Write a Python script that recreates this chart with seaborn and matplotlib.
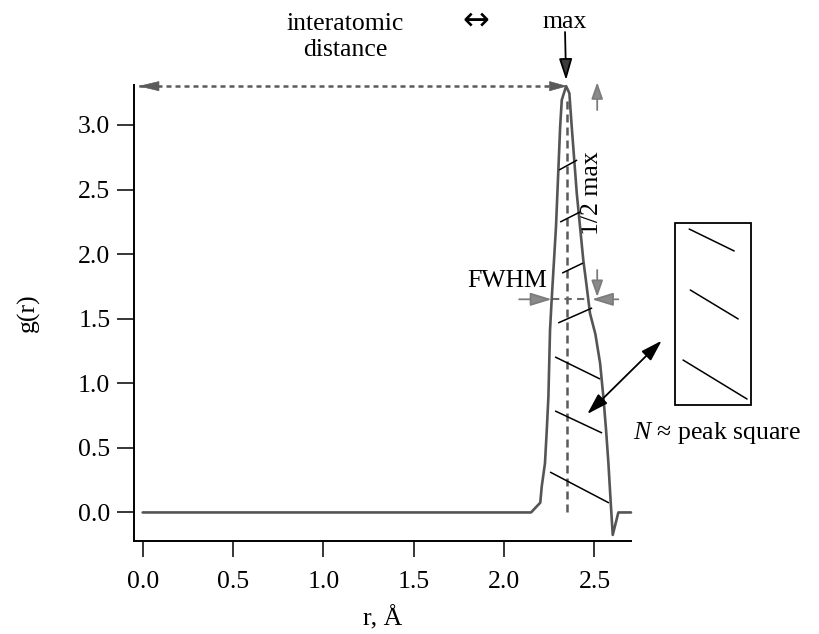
import numpy as np
import pandas as pd
import matplotlib
matplotlib.use("Agg")
import matplotlib.pyplot as plt
from matplotlib.patches import Rectangle, FancyArrowPatch, ArrowStyle
import seaborn as sns

# Radial distribution function g(r) around the first coordination shell
r_angstrom = [0.000, 2.149, 2.200, 2.208, 2.226, 2.236, 2.245, 2.254, 2.263, 2.287,
              2.310, 2.319, 2.343, 2.361, 2.374, 2.402, 2.438, 2.457, 2.475, 2.505,
              2.531, 2.549, 2.564, 2.577, 2.590, 2.601, 2.632, 2.702]
g_of_r = [0.000, 0.000, 0.076, 0.200, 0.381, 0.639, 0.896, 1.412, 1.645, 2.212,
          2.986, 3.193, 3.300, 3.245, 2.986, 2.470, 1.954, 1.748, 1.542, 1.380,
          1.155, 0.896, 0.639, 0.381, 0.071, -0.174, 0.000, 0.000]

x_ticks = [0.0, 0.5, 1.0, 1.5, 2.0, 2.5]
y_ticks = [0.0, 0.5, 1.0, 1.5, 2.0, 2.5, 3.0]

sns.set_theme(style="ticks")
plt.rcParams["font.family"] = ["Liberation Serif", "DejaVu Serif"]
plt.rcParams["mathtext.fontset"] = "custom"
plt.rcParams["mathtext.it"] = "Liberation Serif:italic"
plt.rcParams["mathtext.rm"] = "Liberation Serif"

FS = 18.5
W, H = 819, 634
fig = plt.figure(figsize=(W / 100, H / 100), dpi=100)
fig.patch.set_facecolor("white")
ax = fig.add_axes([134 / W, 1 - 541 / H, (631 - 134) / W, (541 - 85) / H])
ax.set_facecolor("white")

df = pd.DataFrame({"r": r_angstrom, "g": g_of_r})
sns.lineplot(data=df, x="r", y="g", ax=ax, color="#555555", linewidth=1.9,
             sort=False, estimator=None, clip_on=False, zorder=4)

ax.set_xlim(-0.048, 2.702)
ax.set_ylim(-0.221, 3.309)
ax.set_xticks(x_ticks)
ax.set_xticklabels([f"{v:.1f}" for v in x_ticks])
ax.set_yticks(y_ticks)
ax.set_yticklabels([f"{v:.1f}" for v in y_ticks])
sns.despine(ax=ax)
for side in ("left", "bottom"):
    ax.spines[side].set_linewidth(1.4)
    ax.spines[side].set_color("black")
ax.tick_params(axis="x", length=11.5, width=1.1, pad=10, labelsize=FS,
               color="black", labelcolor="black")
ax.tick_params(axis="y", length=12, width=1.1, pad=5, labelsize=FS,
               color="black", labelcolor="black")

ax.set_xlabel("r, Å", fontsize=FS, color="black")
ax.set_ylabel("g(r)", fontsize=FS, color="black")
ax.xaxis.set_label_coords(0.5, -0.169)
ax.xaxis.label.set_va("center")
ax.yaxis.set_label_coords(-0.213, 0.5)
ax.yaxis.label.set_va("center")

# Peak position and height
i_pk = int(np.argmax(g_of_r))
r_pk, g_pk = r_angstrom[i_pk], g_of_r[i_pk]
half = g_pk / 2

# Half-maximum crossings on both flanks of the peak
r_arr = np.array(r_angstrom)
g_arr = np.array(g_of_r)
left = slice(1, i_pk + 1)
r_left = np.interp(half, g_arr[left], r_arr[left])
right = slice(i_pk, 25)
r_right = np.interp(half, g_arr[right][::-1], r_arr[right][::-1])

dash_gray = "#5a5a5a"
arrow_gray = "#7c7c7c"


def arrow(p0, p1, style="-|>", lw=1.2, color="black", fc=None, hl=10, hw=3.5, z=5):
    st = ArrowStyle(style, head_length=hl, head_width=hw)
    a = FancyArrowPatch(p0, p1, arrowstyle=st, mutation_scale=1, lw=lw,
                        edgecolor=color, facecolor=fc or color,
                        shrinkA=0, shrinkB=0, clip_on=False, zorder=z)
    ax.add_patch(a)


# Interatomic distance: dotted line from the axis to the peak
ax.plot([-0.02, r_pk - 0.05], [g_pk, g_pk], color=dash_gray, lw=1.8,
        linestyle=(0, (2.0, 1.6)), clip_on=False, zorder=5)
arrow((0.06, g_pk), (-0.026, g_pk), lw=0.5, color=dash_gray, hl=14, hw=3.3)
arrow((r_pk - 0.08, g_pk), (r_pk + 0.008, g_pk), lw=0.5, color=dash_gray, hl=12, hw=3.3)

# Vertical dashed line at the peak position
ax.plot([r_pk + 0.005, r_pk + 0.005], [0.0, 3.2], color=dash_gray, lw=1.8,
        linestyle=(0, (3.2, 2.0)), zorder=3)

# FWHM dashed line at half maximum
ax.plot([r_left, r_right], [half, half], color="#6a6a6a", lw=1.5,
        linestyle=(0, (3.5, 2.5)), zorder=3)
arrow((2.083, half), (r_left, half), lw=1.3, color=arrow_gray, fc="#8a8a8a", hl=13, hw=4)
arrow((2.632, half), (r_right + 0.02, half), lw=1.3, color=arrow_gray, fc="#8a8a8a", hl=13, hw=4)

# Height arrows bracketing the half-maximum interval
arrow((2.515, 3.115), (2.515, 3.33), lw=1.3, color=arrow_gray, fc="#8a8a8a", hl=10, hw=3.5)
arrow((2.515, 1.877), (2.515, 1.668), lw=1.3, color=arrow_gray, fc="#8a8a8a", hl=10, hw=3.5)

# Arrow marking the maximum
arrow((r_pk - 0.006, 3.719), (r_pk, 3.347), lw=1.3, color="black", fc="#3c3c3c", hl=13, hw=4)

# Hatching inside the peak area
hatch_segments = [
    ((2.304, 2.651), (2.404, 2.728)),
    ((2.310, 2.248), (2.420, 2.326)),
    ((2.321, 1.853), (2.437, 1.931)),
    ((2.299, 1.467), (2.487, 1.583)),
    ((2.282, 1.204), (2.531, 1.033)),
    ((2.282, 0.786), (2.542, 0.615)),
    ((2.254, 0.313), (2.580, 0.074)),
]
for (x0, y0), (x1, y1) in hatch_segments:
    ax.plot([x0, x1], [y0, y1], color="black", lw=1.1, zorder=4, solid_capstyle="butt")

# Inset box showing the hatched area
ax.add_patch(Rectangle((2.946, 0.832), 0.420, 1.409, fill=False, lw=1.3,
                       edgecolor="black", clip_on=False, zorder=5))
box_hatch = [
    ((3.024, 2.194), (3.273, 2.024)),
    ((3.030, 1.722), (3.295, 1.498)),
    ((2.990, 1.180), (3.344, 0.878)),
]
for (x0, y0), (x1, y1) in box_hatch:
    ax.plot([x0, x1], [y0, y1], color="black", lw=1.1, clip_on=False, zorder=5)

arrow((2.460, 0.762), (2.872, 1.330), style="<|-|>", lw=1.3, color="black", hl=13, hw=4)

# Text labels
ax.text(2.712, 0.615, r"$N$ ≈ peak square", fontsize=FS, ha="left", va="center",
        color="black", clip_on=False)
ax.text(2.238, 1.792, "FWHM", fontsize=FS, ha="right", va="center", color="black")
ax.text(2.487, 2.473, "1/2 max", fontsize=FS, ha="center", va="center",
        rotation=90, color="black")

fig.text(345 / W, 1 - 37 / H, "interatomic\ndistance", fontsize=FS, ha="center",
         va="center", linespacing=1.2, color="black")
fig.text(476 / W, 1 - 21 / H, "↔", fontsize=23, ha="center", va="center",
         color="black", family=["DejaVu Sans"])
fig.text(565 / W, 1 - 22 / H, "max", fontsize=FS, ha="center", va="center", color="black")

fig.savefig("out.png", dpi=100)
